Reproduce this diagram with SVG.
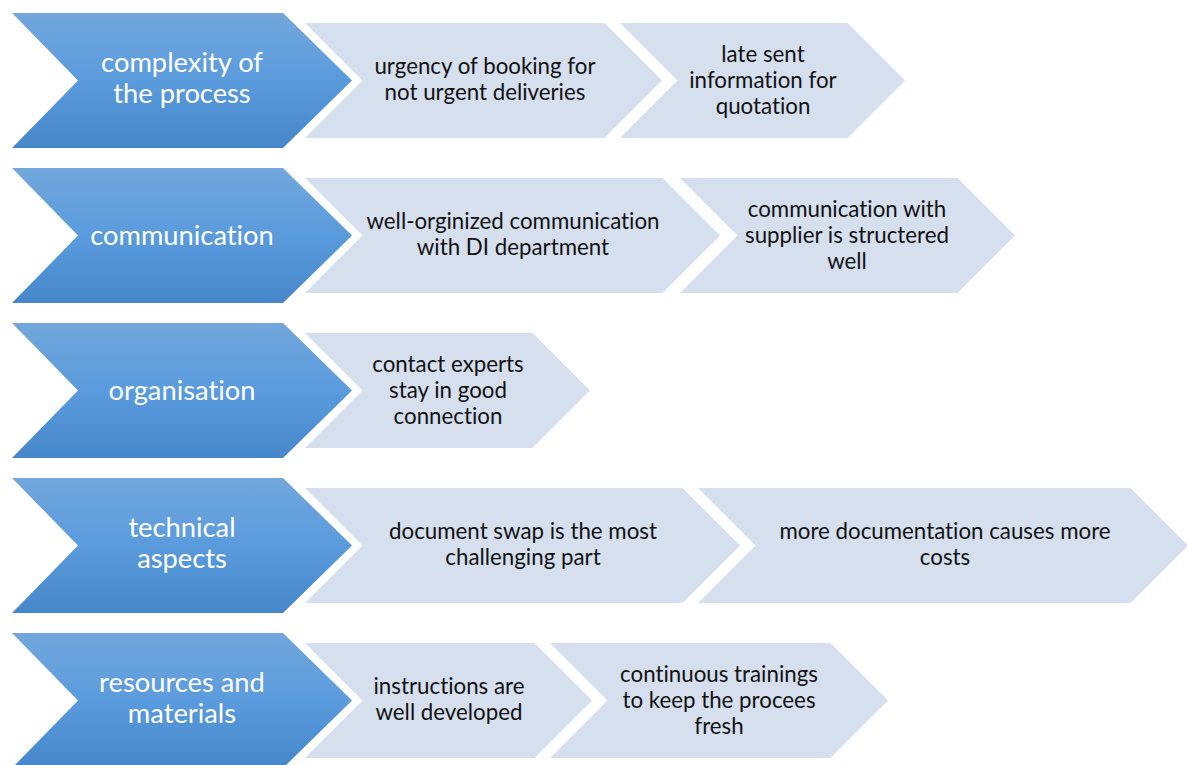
<svg xmlns="http://www.w3.org/2000/svg" width="1187" height="765" viewBox="0 0 1187 765">
<defs>
<linearGradient id="bg" x1="0" y1="0" x2="0" y2="1">
<stop offset="0" stop-color="#72A7DC"/>
<stop offset="0.5" stop-color="#5A9BDD"/>
<stop offset="1" stop-color="#4687CA"/>
</linearGradient>
<style>
.main{fill:url(#bg);}
.sub{fill:#D5DFEE;}
.mt{font-family:Lato,"Liberation Sans",sans-serif;font-size:27.3px;fill:#fff;text-anchor:middle;font-variant-ligatures:none;}
.st{font-family:Lato,"Liberation Sans",sans-serif;font-size:22.3px;fill:#111;text-anchor:middle;font-variant-ligatures:none;}
</style>
</defs>
<rect width="1187" height="765" fill="#fff"/>
<g id="connectors"></g>

<!-- Row 1 -->
<g id="r1-sub2"><path class="sub" d="M620,23 L847.5,23 L905,80.5 L847.5,138 L620,138 L677.5,80.5 Z"/>
<text class="st" x="763" y="62">late sent</text><text class="st" x="763" y="88">information for</text><text class="st" x="763" y="114">quotation</text></g>
<g id="r1-sub1"><path class="sub" d="M305,23 L604.5,23 L662,80.5 L604.5,138 L305,138 L362.5,80.5 Z"/>
<text class="st" x="485" y="74">urgency of booking for</text><text class="st" x="485" y="100">not urgent deliveries</text></g>
<g id="r1-main"><path class="main" d="M12,13 L283,13 L352,80.5 L283,148 L12,148 L78,80.5 Z"/>
<text class="mt" x="182" y="72">complexity of</text><text class="mt" x="182" y="103">the process</text></g>

<!-- Row 2 -->
<g id="r2-sub2"><path class="sub" d="M680,178 L957.5,178 L1015,235.5 L957.5,293 L680,293 L737.5,235.5 Z"/>
<text class="st" x="847" y="217">communication with</text><text class="st" x="847" y="243">supplier is structered</text><text class="st" x="847" y="269">well</text></g>
<g id="r2-sub1"><path class="sub" d="M305,178 L662.5,178 L720,235.5 L662.5,293 L305,293 L362.5,235.5 Z"/>
<text class="st" x="513" y="229">well-orginized communication</text><text class="st" x="513" y="255">with DI department</text></g>
<g id="r2-main"><path class="main" d="M12,168 L283,168 L352,235.5 L283,303 L12,303 L78,235.5 Z"/>
<text class="mt" x="182" y="245">communication</text></g>

<!-- Row 3 -->
<g id="r3-sub1"><path class="sub" d="M305,333 L532.5,333 L590,390.5 L532.5,448 L305,448 L362.5,390.5 Z"/>
<text class="st" x="448" y="372">contact experts</text><text class="st" x="448" y="398">stay in good</text><text class="st" x="448" y="424">connection</text></g>
<g id="r3-main"><path class="main" d="M12,323 L283,323 L352,390.5 L283,458 L12,458 L78,390.5 Z"/>
<text class="mt" x="182" y="400">organisation</text></g>

<!-- Row 4 -->
<g id="r4-sub2"><path class="sub" d="M698,488 L1130.5,488 L1188,545.5 L1130.5,603 L698,603 L755.5,545.5 Z"/>
<text class="st" x="945" y="539">more documentation causes more</text><text class="st" x="945" y="565">costs</text></g>
<g id="r4-sub1"><path class="sub" d="M305,488 L682.5,488 L740,545.5 L682.5,603 L305,603 L362.5,545.5 Z"/>
<text class="st" x="523" y="539">document swap is the most</text><text class="st" x="523" y="565">challenging part</text></g>
<g id="r4-main"><path class="main" d="M12,478 L283,478 L352,545.5 L283,613 L12,613 L78,545.5 Z"/>
<text class="mt" x="182" y="537">technical</text><text class="mt" x="182" y="568">aspects</text></g>

<!-- Row 5 -->
<g id="r5-sub2"><path class="sub" d="M550,643 L830.5,643 L888,700.5 L830.5,758 L550,758 L607.5,700.5 Z"/>
<text class="st" x="719" y="682">continuous trainings</text><text class="st" x="719" y="708">to keep the procees</text><text class="st" x="719" y="734">fresh</text></g>
<g id="r5-sub1"><path class="sub" d="M305,643 L534.5,643 L592,700.5 L534.5,758 L305,758 L362.5,700.5 Z"/>
<text class="st" x="449" y="694">instructions are</text><text class="st" x="449" y="720">well developed</text></g>
<g id="r5-main"><path class="main" d="M12,633 L283,633 L352,700.5 L283,768 L12,768 L78,700.5 Z"/>
<text class="mt" x="182" y="692">resources and</text><text class="mt" x="182" y="723">materials</text></g>
</svg>
